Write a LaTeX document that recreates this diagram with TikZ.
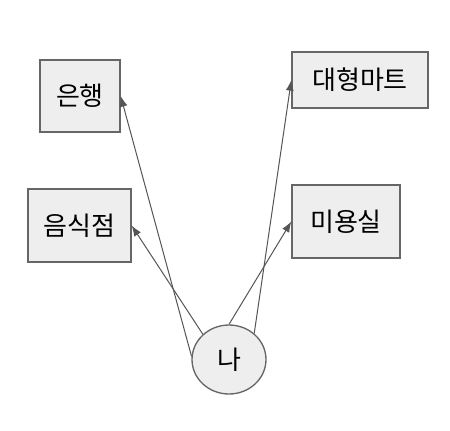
\documentclass[tikz,border=0pt]{standalone}
\usepackage{fontspec}
\setmainfont{Noto Sans CJK KR}
\usetikzlibrary{shapes.geometric}
\usetikzlibrary{arrows.meta, positioning}
\usepackage{xcolor}
\definecolor{boxfill}{HTML}{EEEEEE}
\definecolor{boxline}{HTML}{666666}
\definecolor{linkline}{HTML}{555555}

\begin{document}
\begin{tikzpicture}[
			x=0.75pt,
			y=-0.75pt,
			every node/.style={
					draw=boxline,
					fill=boxfill,
					line width=1pt,
					font=\fontsize{19.5}{23}\selectfont,
					inner sep=0pt
				},
			place/.style={rectangle},
			me/.style={ellipse},
			link/.style={
					-{Latex[length=8pt, width=6pt]},
					draw=linkline,
					line width=0.75pt
				}
		]
		\useasboundingbox (0, 0) rectangle (450, 430);

		\node[place, minimum width=60pt, minimum height=54pt] (bank) at (80, 96) {은행};
		\node[place, minimum width=102pt, minimum height=42pt] (mart) at (360, 80) {대형마트};
		\node[place, minimum width=77.25pt, minimum height=54.75pt] (food) at (79.5, 225.5) {음식점};
		\node[place, minimum width=81pt, minimum height=54.75pt] (salon) at (346, 221.5) {미용실};
		\node[me, minimum width=55.5pt, minimum height=51.75pt] (me) at (229, 359.5) {나};

		% links from me
		\draw[link] (me.175) -- (bank.east);
		\draw[link] (me.136) -- (food.east);
		\draw[link] (me.90) -- (salon.west);
		\draw[link] (me.46) -- (mart.west);
	\end{tikzpicture}
\end{document}
